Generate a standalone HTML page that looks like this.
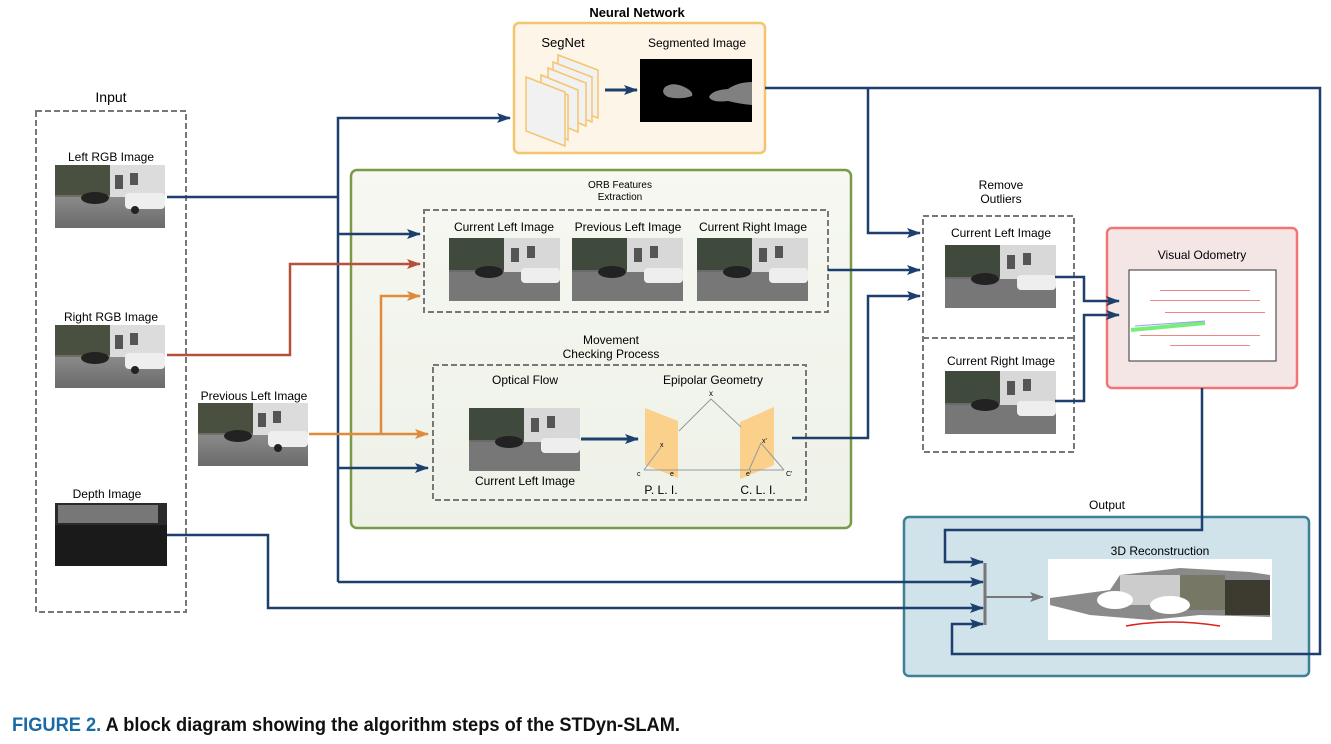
<!DOCTYPE html>
<html><head><meta charset="utf-8"><style>
html,body{margin:0;padding:0;background:#fff;}
svg{display:block;font-family:"Liberation Sans",sans-serif;}
</style></head><body>
<svg width="1331" height="744" viewBox="0 0 1331 744" xmlns="http://www.w3.org/2000/svg">
<defs>
<marker id="ab" markerWidth="14" markerHeight="10" refX="13" refY="5" orient="auto" markerUnits="userSpaceOnUse"><path d="M0,0 L14,5 L0,10 L3,5 Z" fill="#1c3f6e"/></marker>
<marker id="ar" markerWidth="14" markerHeight="10" refX="13" refY="5" orient="auto" markerUnits="userSpaceOnUse"><path d="M0,0 L14,5 L0,10 L3,5 Z" fill="#b5503f"/></marker>
<marker id="ao" markerWidth="14" markerHeight="10" refX="13" refY="5" orient="auto" markerUnits="userSpaceOnUse"><path d="M0,0 L14,5 L0,10 L3,5 Z" fill="#e08a3c"/></marker>
<marker id="ag" markerWidth="14" markerHeight="10" refX="13" refY="5" orient="auto" markerUnits="userSpaceOnUse"><path d="M0,0 L14,5 L0,10 L3,5 Z" fill="#777"/></marker>
<linearGradient id="gg" x1="0" y1="0" x2="0" y2="1"><stop offset="0" stop-color="#f6f8f1"/><stop offset="1" stop-color="#eef1e8"/></linearGradient>
<linearGradient id="road" x1="0" y1="0" x2="0" y2="1"><stop offset="0" stop-color="#8a8a8a"/><stop offset="1" stop-color="#6b6b6b"/></linearGradient>
<g id="photo">
<rect width="110" height="63" fill="#6d6f66"/>
<rect width="60" height="30" fill="#4a5040"/>
<rect x="55" y="0" width="55" height="32" fill="#dcdcdc"/>
<rect x="60" y="10" width="8" height="14" fill="#555"/>
<rect x="75" y="8" width="8" height="12" fill="#555"/>
<rect x="0" y="32" width="110" height="31" fill="url(#road)"/>
<ellipse cx="40" cy="33" rx="14" ry="6" fill="#222"/>
<rect x="70" y="28" width="40" height="16" rx="4" fill="#eee"/>
<circle cx="80" cy="45" r="4" fill="#222"/>
</g>
<g id="gphoto">
<rect width="111" height="63" fill="#6a6a6a"/>
<rect width="60" height="32" fill="#3f4a3c"/>
<rect x="55" y="0" width="56" height="34" fill="#d8d8d8"/>
<rect x="62" y="10" width="8" height="14" fill="#555"/>
<rect x="78" y="8" width="8" height="12" fill="#555"/>
<rect x="0" y="34" width="111" height="29" fill="#777"/>
<ellipse cx="40" cy="34" rx="14" ry="6" fill="#222"/>
<rect x="72" y="30" width="39" height="15" rx="4" fill="#eee"/>
</g>
</defs>

<text x="111" y="102" font-size="14" text-anchor="middle">Input</text>
<rect x="36" y="111" width="150" height="501" fill="none" stroke="#777" stroke-width="2" stroke-dasharray="6,3"/>
<text x="111" y="161" font-size="12" text-anchor="middle">Left RGB Image</text>
<use href="#photo" x="55" y="165"/>
<text x="111" y="321" font-size="12" text-anchor="middle">Right RGB Image</text>
<use href="#photo" x="55" y="325"/>
<text x="107" y="498" font-size="12" text-anchor="middle">Depth Image</text>
<rect x="55" y="503" width="112" height="63" fill="#2a2a2a"/>
<rect x="58" y="505" width="100" height="18" fill="#777"/>
<rect x="55" y="525" width="112" height="41" fill="#1a1a1a"/>
<text x="254" y="400" font-size="12" text-anchor="middle">Previous Left Image</text>
<use href="#photo" x="198" y="403"/>

<text x="637" y="17" font-size="13" font-weight="bold" text-anchor="middle">Neural Network</text>
<rect x="514" y="23" width="251" height="130" rx="5" fill="#fcf5e8" stroke="#f5c46e" stroke-width="2.5"/>
<text x="563" y="47" font-size="13" text-anchor="middle">SegNet</text>
<text x="697" y="47" font-size="12" text-anchor="middle">Segmented Image</text>
<g stroke="#f5c46e" stroke-width="1.5" fill="#f1f1f1">
<polygon points="558,55 598,70 598,118 558,103"/>
<polygon points="553,62 592,77 592,122 553,107"/>
<polygon points="548,68 586,83 586,126 548,111"/>
<polygon points="541,75 578,90 578,132 541,117"/>
<polygon points="533,80 568,95 568,140 533,125"/>
<polygon points="526,77 565,92 565,146 526,131"/>
</g>
<line x1="605" y1="90" x2="637" y2="90" stroke="#1c3f6e" stroke-width="3" marker-end="url(#ab)"/>
<rect x="640" y="59" width="112" height="63" fill="#000"/>
<path d="M665,87 Q672,82 682,86 Q694,91 692,96 Q680,100 668,97 Q660,93 665,87Z" fill="#808080"/>
<path d="M709,97 Q712,90 728,89 Q738,82 752,82 L752,105 Q740,104 728,101 Q712,103 709,97Z" fill="#808080"/>

<rect x="351" y="170" width="500" height="358" rx="6" fill="url(#gg)" stroke="#7b9a48" stroke-width="2.5"/>
<text x="620" y="188" font-size="10" text-anchor="middle">ORB Features</text>
<text x="620" y="200" font-size="10" text-anchor="middle">Extraction</text>
<rect x="424" y="210" width="404" height="102" fill="none" stroke="#777" stroke-width="2" stroke-dasharray="6,3"/>
<text x="504" y="231" font-size="12" text-anchor="middle">Current Left Image</text>
<text x="628" y="231" font-size="12" text-anchor="middle">Previous Left Image</text>
<text x="753" y="231" font-size="12" text-anchor="middle">Current Right Image</text>
<use href="#gphoto" x="449" y="238"/>
<use href="#gphoto" x="572" y="238"/>
<use href="#gphoto" x="697" y="238"/>

<text x="611" y="344" font-size="12" text-anchor="middle">Movement</text>
<text x="611" y="358" font-size="12" text-anchor="middle">Checking Process</text>
<rect x="433" y="365" width="373" height="135" fill="none" stroke="#777" stroke-width="2" stroke-dasharray="6,3"/>
<text x="525" y="384" font-size="12" text-anchor="middle">Optical Flow</text>
<text x="713" y="384" font-size="12" text-anchor="middle">Epipolar Geometry</text>
<use href="#gphoto" x="469" y="408"/>
<text x="525" y="485" font-size="12" text-anchor="middle">Current Left Image</text>
<line x1="581" y1="439" x2="638" y2="439" stroke="#1c3f6e" stroke-width="3" marker-end="url(#ab)"/>
<polygon points="645,408 678,421 678,478 645,465" fill="#fbd08a"/>
<polygon points="740,422 774,407 774,465 740,479" fill="#fbd08a"/>
<g stroke="#999" stroke-width="1" fill="none">
<polyline points="679,431 711,399 741,427"/>
<line x1="644" y1="470" x2="784" y2="470"/>
<line x1="644" y1="470" x2="661" y2="447"/>
<polyline points="749,470 761,443 784,470"/>
</g>
<text x="711" y="396" font-size="8" text-anchor="middle">x</text>
<text x="637" y="476" font-size="7">c</text><text x="670" y="476" font-size="7">e</text>
<text x="660" y="447" font-size="7">x</text>
<text x="762" y="443" font-size="7">x'</text><text x="746" y="476" font-size="7">e'</text><text x="786" y="476" font-size="7">C'</text>
<text x="661" y="494" font-size="12" text-anchor="middle">P. L. I.</text>
<text x="758" y="494" font-size="12" text-anchor="middle">C. L. I.</text>

<text x="1001" y="189" font-size="12" text-anchor="middle">Remove</text>
<text x="1001" y="203" font-size="12" text-anchor="middle">Outliers</text>
<rect x="923" y="216" width="151" height="236" fill="none" stroke="#777" stroke-width="2" stroke-dasharray="6,3"/>
<line x1="923" y1="338" x2="1074" y2="338" stroke="#777" stroke-width="2" stroke-dasharray="6,3"/>
<text x="1001" y="237" font-size="12" text-anchor="middle">Current Left Image</text>
<use href="#gphoto" x="945" y="245"/>
<text x="1001" y="365" font-size="12" text-anchor="middle">Current Right Image</text>
<use href="#gphoto" x="945" y="371"/>

<rect x="1107" y="228" width="190" height="160" rx="5" fill="#f5e6e6" stroke="#f37474" stroke-width="2.5"/>
<text x="1202" y="259" font-size="12" text-anchor="middle">Visual Odometry</text>
<rect x="1129" y="270" width="147" height="91" fill="#fff" stroke="#333" stroke-width="1"/>
<g fill="#e88">
<rect x="1160" y="290" width="90" height="1"/><rect x="1150" y="300" width="110" height="1"/><rect x="1165" y="312" width="100" height="1"/><rect x="1140" y="335" width="120" height="1"/><rect x="1170" y="345" width="80" height="1"/>
</g>
<line x1="1131" y1="330" x2="1205" y2="323" stroke="#7e7" stroke-width="4"/>
<line x1="1135" y1="326" x2="1205" y2="321" stroke="#99f" stroke-width="1"/>

<text x="1107" y="509" font-size="12" text-anchor="middle">Output</text>
<rect x="904" y="517" width="405" height="159" rx="5" fill="#d0e2ea" stroke="#3e8096" stroke-width="2.5"/>
<text x="1160" y="555" font-size="12" text-anchor="middle">3D Reconstruction</text>
<rect x="1048" y="559" width="224" height="81" fill="#fff"/>
<path d="M1050,598 L1110,590 L1120,575 L1180,568 L1250,572 L1270,575 L1270,617 L1200,615 L1150,620 L1090,615 L1050,605Z" fill="#8a8a8a"/>
<rect x="1120" y="575" width="60" height="30" fill="#ccc"/>
<rect x="1180" y="575" width="45" height="35" fill="#776"/>
<rect x="1225" y="580" width="45" height="35" fill="#3d3a30"/>
<ellipse cx="1115" cy="600" rx="18" ry="9" fill="#fff"/>
<ellipse cx="1170" cy="605" rx="20" ry="9" fill="#fff"/>
<path d="M1126,626 Q1170,618 1220,626" stroke="#d22" stroke-width="1.5" fill="none"/>

<line x1="985" y1="563" x2="985" y2="625" stroke="#777" stroke-width="3"/>
<line x1="986" y1="597" x2="1043" y2="597" stroke="#777" stroke-width="2" marker-end="url(#ag)"/>

<g stroke="#1c3f6e" stroke-width="2.5" fill="none">
<polyline points="167,197 338,197"/>
<polyline points="338,582 338,118 510,118" marker-end="url(#ab)"/>
<polyline points="338,234 420,234" marker-end="url(#ab)"/>
<polyline points="338,468 428,468" marker-end="url(#ab)"/>
<polyline points="338,582 983,582" marker-end="url(#ab)"/>
<polyline points="167,535 268,535 268,608 983,608" marker-end="url(#ab)"/>
<polyline points="765,88 1320,88 1320,654 952,654 952,624 983,624" marker-end="url(#ab)"/>
<polyline points="868,88 868,233 920,233" marker-end="url(#ab)"/>
<polyline points="828,270 920,270" marker-end="url(#ab)"/>
<polyline points="792,438 868,438 868,296 920,296" marker-end="url(#ab)"/>
<polyline points="1055,277 1084,277 1084,301 1119,301" marker-end="url(#ab)"/>
<polyline points="1055,401 1084,401 1084,315 1119,315" marker-end="url(#ab)"/>
<polyline points="1202,388 1202,530 945,530 945,562 983,562" marker-end="url(#ab)"/>
</g>
<polyline points="167,355 290,355 290,264 420,264" stroke="#b5503f" stroke-width="2.5" fill="none" marker-end="url(#ar)"/>
<polyline points="309,434 428,434" stroke="#e08a3c" stroke-width="2.5" fill="none" marker-end="url(#ao)"/>
<polyline points="381,434 381,296 420,296" stroke="#e08a3c" stroke-width="2.5" fill="none" marker-end="url(#ao)"/>

<text x="12" y="731" font-size="19" font-weight="bold" font-family="'Liberation Sans Narrow','Liberation Sans',sans-serif" textLength="668" lengthAdjust="spacingAndGlyphs"><tspan fill="#1a6aa8">FIGURE 2.</tspan><tspan fill="#111">  A block diagram showing the algorithm steps of the STDyn-SLAM.</tspan></text>
</svg>
</body></html>
